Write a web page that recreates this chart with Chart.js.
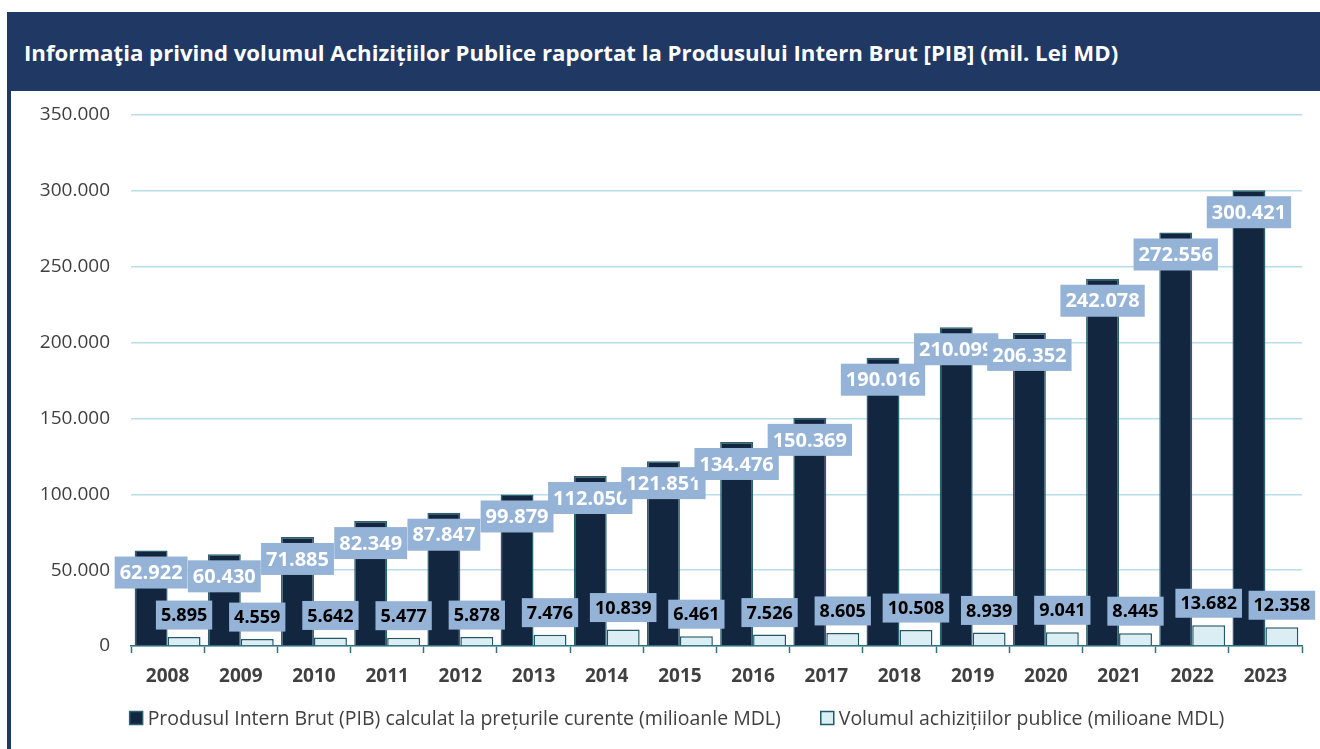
<!DOCTYPE html>
<html>
<head>
<meta charset="utf-8">
<script src="https://cdn.jsdelivr.net/npm/chart.js@4.4.0/dist/chart.umd.min.js"></script>
<style>
  body { margin: 0; background: #ffffff; width: 1320px; height: 749px; overflow: hidden; position: relative; font-family: "Open Sans", sans-serif; }
  #titleBar { position: absolute; left: 7px; top: 12px; width: 1313px; height: 79px; background: #203864; color: #ffffff;
    font-weight: bold; font-size: 22.2px; line-height: 82px; padding-left: 17px; box-sizing: border-box; white-space: nowrap; }
  #leftLine { position: absolute; left: 7px; top: 91px; width: 4px; height: 658px; background: #203864; }
  #chartBox { position: absolute; left: 12px; top: 91px; width: 1308px; height: 658px; }
</style>
</head>
<body>
<div id="titleBar">Informaţia privind volumul Achizițiilor Publice raportat la Produsului Intern Brut [PIB] (mil. Lei MD)</div>
<div id="leftLine"></div>
<div id="chartBox"><canvas id="chart" width="1308" height="658"></canvas></div>
<script>
const years = ["2008", "2009", "2010", "2011", "2012", "2013", "2014", "2015", "2016", "2017", "2018", "2019", "2020", "2021", "2022", "2023"];
const pibValues = [62922, 60430, 71885, 82349, 87847, 99879, 112050, 121851, 134476, 150369, 190016, 210099, 206352, 242078, 272556, 300421];
const achizitiiValues = [5895, 4559, 5642, 5477, 5878, 7476, 10839, 6461, 7526, 8605, 10508, 8939, 9041, 8445, 13682, 12358];
const yTicks = [0, 50000, 100000, 150000, 200000, 250000, 300000, 350000];

const FONT = "'Open Sans', sans-serif";
const TEXT_GRAY = "#404040";

function fmt(v) {
  return Number(v).toLocaleString("de-DE");
}

// value boxes like in the Excel original
const valueBoxes = {
  id: "valueBoxes",
  afterDatasetsDraw(chart) {
    const ctx = chart.ctx;
    ctx.save();
    ctx.textAlign = "center";
    ctx.textBaseline = "middle";
    chart.data.datasets.forEach((ds, i) => {
      const meta = chart.getDatasetMeta(i);
      const isPib = i === 0;
      ctx.font = isPib ? "bold 20px " + FONT : "bold 18px " + FONT;
      meta.data.forEach((bar, j) => {
        const text = fmt(ds.data[j]);
        const w = ctx.measureText(text).width + 10;
        const h = isPib ? 32 : 29;
        const cy = isPib ? bar.y + 22 : bar.y - 22;
        ctx.fillStyle = "#95B3D7";
        ctx.fillRect(bar.x - w / 2, cy - h / 2, w, h);
        ctx.fillStyle = isPib ? "#ffffff" : "#000000";
        ctx.fillText(text, bar.x, cy + 1);
      });
    });
    ctx.restore();
  },
};

// legend drawn by hand: Excel puts a wide gap between the two entries
const bottomLegend = {
  id: "bottomLegend",
  afterDraw(chart) {
    const ctx = chart.ctx;
    const box = 13, gapText = 5, gapItem = 40;
    ctx.save();
    ctx.font = "19.5px " + FONT;
    const items = chart.data.datasets.map((ds) => ({ ds, w: ctx.measureText(ds.label).width }));
    const total = items.reduce((s, it) => s + box + gapText + it.w, 0) + gapItem * (items.length - 1);
    let x = 665 - total / 2;
    const cy = 627;
    ctx.textBaseline = "middle";
    ctx.textAlign = "left";
    items.forEach((it) => {
      ctx.fillStyle = it.ds.backgroundColor;
      ctx.fillRect(x, cy - box / 2, box, box);
      ctx.strokeStyle = it.ds.borderColor;
      ctx.lineWidth = 1.5;
      ctx.strokeRect(x, cy - box / 2, box, box);
      ctx.fillStyle = TEXT_GRAY;
      ctx.fillText(it.ds.label, x + box + gapText, cy + 1);
      x += box + gapText + it.w + gapItem;
    });
    ctx.restore();
  },
};

const chart = new Chart(document.getElementById("chart"), {
  type: "bar",
  data: {
    labels: years,
    datasets: [
      {
        label: "Produsul Intern Brut (PIB) calculat la prețurile curente (milioanle MDL)",
        data: pibValues,
        backgroundColor: "#12263F",
        borderColor: "#2B6171",
        borderWidth: 1.5,
        categoryPercentage: 0.9,
        barPercentage: 1.0,
      },
      {
        label: "Volumul achizițiilor publice (milioane MDL)",
        data: achizitiiValues,
        backgroundColor: "#DBEEF3",
        borderColor: "#215967",
        borderWidth: 1.5,
        categoryPercentage: 0.9,
        barPercentage: 1.0,
      },
    ],
  },
  options: {
    responsive: false,
    animation: false,
    layout: { padding: { left: 0, right: 18, top: 24, bottom: 53 } },
    plugins: {
      tooltip: { enabled: false },
      legend: { display: false },
    },
    scales: {
      x: {
        afterFit: (s) => { s.height = 50; },
        grid: {
          offset: true,
          drawOnChartArea: false,
          drawTicks: true,
          tickLength: 7,
          tickColor: "#31707F",
          tickWidth: 1.5,
        },
        border: { display: true, color: "#31707F", width: 1.5 },
        ticks: {
          padding: 12,
          color: TEXT_GRAY,
          font: { family: FONT, size: 19, weight: "bold" },
        },
      },
      y: {
        min: 0,
        max: 350000,
        afterFit: (s) => {
          s.width = 119;
          s.paddingTop = 0;
          s.paddingBottom = 0;
        },
        afterBuildTicks: (s) => { s.ticks = yTicks.map((v) => ({ value: v })); },
        grid: { color: "#B7DEE8", lineWidth: 1.5, drawTicks: false },
        border: { display: false },
        ticks: {
          padding: 21,
          color: TEXT_GRAY,
          font: { family: FONT, size: 19 },
          callback: (v) => fmt(v),
        },
      },
    },
  },
  plugins: [valueBoxes, bottomLegend],
});
</script>
</body>
</html>
